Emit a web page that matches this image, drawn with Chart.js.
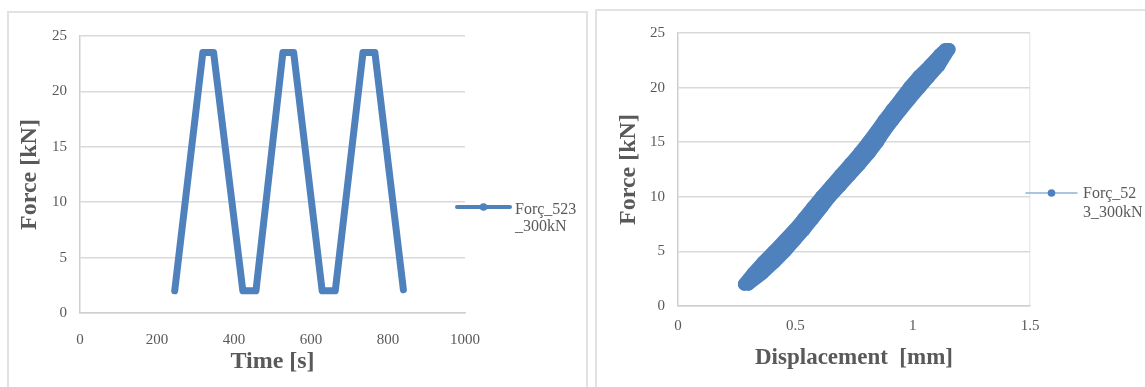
<!DOCTYPE html>
<html>
<head>
<meta charset="utf-8">
<script src="https://cdn.jsdelivr.net/npm/chart.js@4"></script>
<style>
html, body { margin: 0; padding: 0; background: #fff; overflow: hidden; width: 1145px; height: 387px; }
.panel { position: absolute; border: 2px solid #e2e2e2; background: #fff; }
#p1 { left: 7px; top: 11px; width: 577px; height: 400px; }
#p2 { left: 595px; top: 9px; width: 560px; height: 400px; }
canvas { position: absolute; left: 0; top: 0; }
</style>
</head>
<body>
<div class="panel" id="p1"><canvas id="timeChart" width="577" height="374"></canvas></div>
<div class="panel" id="p2"><canvas id="dispChart" width="548" height="376"></canvas></div>
<script>
// dane - wykres 1 (sila w czasie)
const seriesName = 'Forç_523_300kN';
const timeS = [246, 319, 347, 423, 457, 527, 555, 629, 663, 735, 766, 840];
const forceKN = [2.0, 23.5, 23.5, 2.0, 2.0, 23.5, 23.5, 2.0, 2.0, 23.5, 23.5, 2.1];

// dane - wykres 2 (sila / przemieszczenie), galaz obciazenia i odciazenia
const loadDisp = [0.283, 0.320, 0.362, 0.408, 0.452, 0.496, 0.535, 0.573, 0.611, 0.652, 0.692, 0.733, 0.773, 0.810, 0.845, 0.878, 0.913, 0.950, 0.985, 1.025, 1.072, 1.115, 1.140];
const loadForce = [2.0, 3.0, 4.0, 5.0, 6.0, 7.0, 8.0, 9.0, 10.0, 11.0, 12.0, 13.0, 14.0, 15.0, 16.0, 17.0, 18.0, 19.0, 20.0, 21.0, 22.0, 23.0, 23.5];
const unloadDisp = [1.155, 1.140, 1.112, 1.070, 1.030, 0.990, 0.952, 0.915, 0.880, 0.850, 0.815, 0.775, 0.733, 0.691, 0.648, 0.612, 0.575, 0.538, 0.497, 0.456, 0.410, 0.360, 0.300];
const unloadForce = [23.5, 23.0, 22.0, 21.0, 20.0, 19.0, 18.0, 17.0, 16.0, 15.0, 14.0, 13.0, 12.0, 11.0, 10.0, 9.0, 8.0, 7.0, 6.0, 5.0, 4.0, 3.0, 2.0];

// osie
const forceTicks = { min: 0, max: 25, step: 5 };
const timeTicks = { min: 0, max: 1000, step: 200 };
const dispTicks = { min: 0, max: 1.5, step: 0.5 };

const BLUE = '#4f81bd';
const GRID = '#d9d9d9';
const TXT = '#595959';
const SERIF = "'Liberation Serif', 'Times New Roman', serif";

Chart.defaults.font.family = SERIF;
Chart.defaults.color = TXT;

// etykiety bez separatora tysiecy i bez ".0"
const plainLabel = v => String(Math.round(v * 100) / 100);

// legenda po prawej (linia + kropka + tekst w dwoch liniach)
const sideLegend = {
    id: 'sideLegend',
    afterDraw(chart, args, o) {
        const c = chart.ctx;
        c.save();
        c.lineCap = 'round';
        c.strokeStyle = o.lineColor;
        c.lineWidth = o.lineWidth;
        c.beginPath();
        c.moveTo(o.x0, o.y);
        c.lineTo(o.x1, o.y);
        c.stroke();
        c.fillStyle = BLUE;
        c.beginPath();
        c.arc((o.x0 + o.x1) / 2, o.y, o.dotR, 0, Math.PI * 2);
        c.fill();
        c.font = '16px ' + SERIF;
        c.fillStyle = TXT;
        c.textBaseline = 'alphabetic';
        o.lines.forEach((t, i) => c.fillText(t, o.textX, o.baseY + i * o.gap));
        c.restore();
    }
};

const titleFont = { size: 24, weight: 'bold', lineHeight: 1.2 };

function yAxis(width, titlePad) {
    return {
        type: 'linear',
        min: forceTicks.min, max: forceTicks.max,
        ticks: { stepSize: forceTicks.step, padding: 13, font: { size: 15 }, color: TXT, callback: plainLabel },
        grid: { color: GRID, lineWidth: 1.5, drawTicks: false },
        border: { color: '#cfcfcf', width: 1.5 },
        title: { display: true, text: 'Force [kN]', color: TXT, font: titleFont, padding: { top: titlePad, bottom: 0 } },
        afterFit: s => { s.width = width; }
    };
}

// wykres 1
const timePoints = timeS.map((t, i) => ({ x: t, y: forceKN[i] }));
new Chart(document.getElementById('timeChart').getContext('2d'), {
    type: 'scatter',
    data: {
        datasets: [{
            label: seriesName,
            data: timePoints,
            showLine: true,
            borderColor: BLUE,
            backgroundColor: BLUE,
            borderWidth: 7,
            borderJoinStyle: 'round',
            borderCapStyle: 'round',
            pointRadius: 0,
            tension: 0
        }]
    },
    options: {
        responsive: false,
        animation: false,
        devicePixelRatio: 1,
        layout: { padding: { left: 0, top: 23, right: 121, bottom: 0 } },
        plugins: {
            legend: { display: false },
            tooltip: { enabled: false },
            sideLegend: { x0: 448, x1: 501, y: 194, lineWidth: 4, lineColor: BLUE, dotR: 3.8, textX: 506, baseY: 200.5, gap: 17.5, lines: [seriesName.slice(0, 8), seriesName.slice(8)] }
        },
        scales: {
            x: {
                type: 'linear',
                min: timeTicks.min, max: timeTicks.max,
                ticks: { stepSize: timeTicks.step, padding: 10, font: { size: 15 }, color: TXT, callback: plainLabel },
                grid: { display: false },
                border: { color: '#cfcfcf', width: 1.5 },
                title: { display: true, text: 'Time [s]', color: TXT, font: titleFont, padding: { top: 0, bottom: 10.5 } },
                afterFit: s => { s.height = 74; }
            },
            y: yAxis(71, 6.5)
        }
    },
    plugins: [sideLegend]
});

// wykres 2
const dispPoints = loadDisp.map((d, i) => ({ x: d, y: loadForce[i] }))
    .concat(unloadDisp.map((d, i) => ({ x: d, y: unloadForce[i] })));
new Chart(document.getElementById('dispChart').getContext('2d'), {
    type: 'scatter',
    data: {
        datasets: [{
            label: seriesName,
            data: dispPoints,
            showLine: true,
            borderColor: BLUE,
            backgroundColor: BLUE,
            borderWidth: 13,
            borderJoinStyle: 'round',
            borderCapStyle: 'round',
            pointRadius: 6.5,
            pointBorderWidth: 0,
            tension: 0
        }]
    },
    options: {
        responsive: false,
        animation: false,
        devicePixelRatio: 1,
        layout: { padding: { left: 0, top: 22, right: 115, bottom: 0 } },
        plugins: {
            legend: { display: false },
            tooltip: { enabled: false },
            sideLegend: { x0: 429, x1: 480, y: 182, lineWidth: 1.5, lineColor: '#8fb1dc', dotR: 3.8, textX: 486, baseY: 187, gap: 18.5, lines: [seriesName.slice(0, 7), seriesName.slice(7)] }
        },
        scales: {
            x: {
                type: 'linear',
                min: dispTicks.min, max: dispTicks.max,
                ticks: { stepSize: dispTicks.step, padding: 11, font: { size: 15 }, color: TXT, callback: plainLabel },
                grid: {
                    drawTicks: false,
                    lineWidth: 1.5,
                    color: ctx => ctx.index === 3 ? '#ececec' : 'rgba(0,0,0,0)'
                },
                border: { color: '#cfcfcf', width: 1.5 },
                title: { display: true, text: 'Displacement  [mm]', color: TXT, font: { size: 23, weight: 'bold', lineHeight: 1.2 }, padding: { top: 0, bottom: 15 } },
                afterFit: s => { s.height = 81; }
            },
            y: yAxis(81, 17.5)
        }
    },
    plugins: [sideLegend]
});
</script>
</body>
</html>
